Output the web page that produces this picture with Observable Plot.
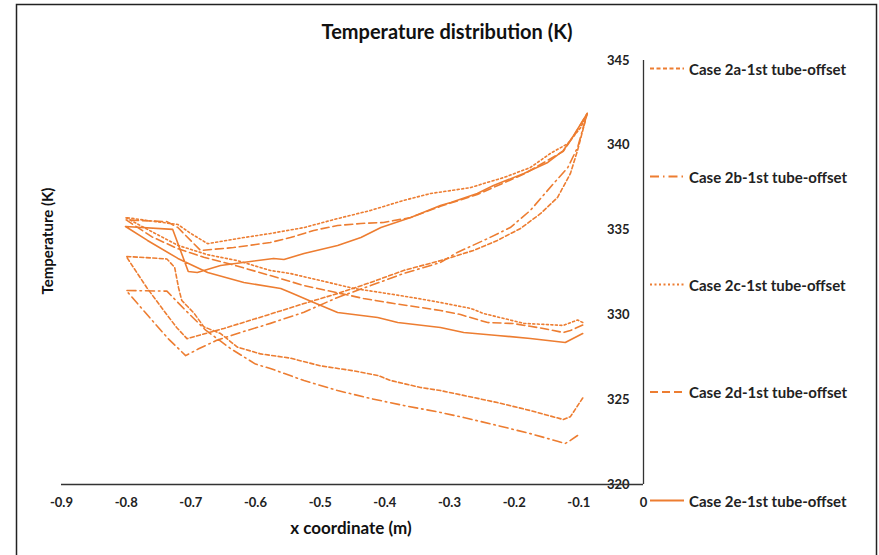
<!DOCTYPE html>
<html><head><meta charset="utf-8">
<script src="https://cdn.jsdelivr.net/npm/d3@7"></script>
<script src="https://cdn.jsdelivr.net/npm/@observablehq/plot@0.6"></script>
<style>body{margin:0;background:#fff} svg{display:block}</style>
</head><body><div id="chart"></div>
<script>
const seriesNames = ["Case 2a-1st tube-offset","Case 2b-1st tube-offset","Case 2c-1st tube-offset","Case 2d-1st tube-offset","Case 2e-1st tube-offset"];
const xTicks = [-0.9,-0.8,-0.7,-0.6,-0.5,-0.4,-0.3,-0.2,-0.1,0];
const yTicks = [320,325,330,335,340,345];

// Case 2a (lower branch right->left, then upper branch left->right)
const x2a = [-0.094,-0.113,-0.124,-0.175,-0.226,-0.263,-0.314,-0.345,-0.391,-0.411,-0.448,-0.5,-0.546,-0.592,-0.628,-0.654,-0.68,-0.695,-0.714,-0.719,-0.725,-0.737,-0.80,
  -0.768,-0.742,-0.722,-0.706,-0.649,-0.581,-0.525,-0.473,-0.422,-0.371,-0.314,-0.298,-0.263,-0.226,-0.19,-0.159,-0.133,-0.113,-0.102,-0.087];
const t2a = [325.1,324.0,323.83,324.36,324.83,325.13,325.54,325.72,326.13,326.43,326.7,327.0,327.45,327.7,328.1,328.9,329.3,330.1,330.85,331.6,332.8,333.3,333.45,
  331.6,330.26,329.26,328.6,329.2,330.0,330.67,331.26,331.91,332.62,333.2,333.38,333.8,334.39,335.1,335.98,336.92,338.34,339.7,341.88];

// Case 2b
const x2b = [-0.102,-0.113,-0.121,-0.133,-0.175,-0.226,-0.278,-0.314,-0.371,-0.422,-0.473,-0.525,-0.577,-0.6,-0.638,-0.677,-0.708,-0.737,-0.80,
  -0.765,-0.735,-0.708,-0.688,-0.66,-0.62,-0.577,-0.525,-0.473,-0.422,-0.371,-0.314,-0.288,-0.241,-0.206,-0.175,-0.139,-0.117,-0.102,-0.087];
const t2b = [322.89,322.6,322.42,322.55,323.0,323.48,323.95,324.25,324.66,325.07,325.54,326.13,326.84,327.1,328.0,329.1,330.26,331.4,331.44,
  329.9,328.6,327.6,328.0,328.5,329.0,329.5,330.16,331.03,331.73,332.44,333.09,333.68,334.5,335.15,336.16,337.75,338.69,339.87,341.88];

// Case 2c
const x2c = [-0.094,-0.102,-0.124,-0.185,-0.247,-0.267,-0.314,-0.349,-0.396,-0.448,-0.5,-0.546,-0.577,-0.628,-0.674,-0.72,-0.76,-0.801,
  -0.72,-0.70,-0.674,-0.618,-0.577,-0.525,-0.473,-0.422,-0.371,-0.329,-0.298,-0.267,-0.247,-0.216,-0.175,-0.144,-0.117,-0.097,-0.087];
const t2c = [329.55,329.7,329.38,329.5,330.08,330.38,330.73,330.97,331.26,331.56,332.03,332.44,332.62,333.2,333.55,334.1,334.9,335.74,
  335.33,334.8,334.2,334.56,334.8,335.15,335.68,336.16,336.75,337.16,337.33,337.51,337.75,338.1,338.69,339.52,340.1,341.05,341.88];

// Case 2d
const x2d = [-0.094,-0.113,-0.124,-0.155,-0.201,-0.241,-0.283,-0.314,-0.345,-0.386,-0.433,-0.473,-0.525,-0.577,-0.63,-0.68,-0.72,-0.76,-0.80,
  -0.737,-0.72,-0.685,-0.634,-0.577,-0.546,-0.51,-0.473,-0.437,-0.402,-0.36,-0.314,-0.257,-0.185,-0.124,-0.108,-0.087];
const t2d = [329.4,329.08,328.96,329.2,329.49,329.55,330.02,330.26,330.44,330.67,330.97,331.3,331.73,332.32,332.9,333.4,333.9,334.6,335.6,
  335.5,335.15,333.8,333.97,334.27,334.56,334.98,335.27,335.39,335.45,335.74,336.4,337.1,338.3,339.65,340.55,341.88];

// Case 2e
const x2e = [-0.094,-0.121,-0.175,-0.226,-0.278,-0.314,-0.38,-0.411,-0.473,-0.51,-0.546,-0.561,-0.618,-0.674,-0.72,-0.767,-0.801,
  -0.728,-0.704,-0.69,-0.654,-0.572,-0.556,-0.525,-0.473,-0.437,-0.406,-0.36,-0.314,-0.298,-0.257,-0.232,-0.185,-0.148,-0.124,-0.108,-0.087];
const t2e = [328.9,328.37,328.61,328.79,328.96,329.26,329.55,329.85,330.14,330.73,331.32,331.56,331.91,332.5,333.33,334.39,335.21,
  335.04,332.56,332.5,332.91,333.33,333.27,333.62,334.09,334.56,335.15,335.74,336.45,336.63,337.16,337.63,338.34,338.99,339.69,340.58,341.88];

const xs = [x2a,x2b,x2c,x2d,x2e];
const ts = [t2a,t2b,t2c,t2d,t2e];
const dashes = ["4,2.5","9,4,1.5,4","2,2.5","8,4",null];
const color = "#ED7D31";

const rows = xs.map((xa, s) => xa.map((x, i) => ({series: seriesNames[s], x, t: ts[s][i], i})));

const fmt = d => String(+d.toFixed(1));

const chart = Plot.plot({
  width: 879, height: 555,
  marginLeft: 61, marginRight: 236, marginTop: 60, marginBottom: 71,
  x: {domain: [-0.9, 0], label: null},
  y: {domain: [320, 345], label: null},
  style: {fontFamily: "Lato, sans-serif", fontSize: "13px", fontWeight: "bold", color: "#222", background: "#fff"},
  marks: [
    Plot.axisX({ticks: xTicks, tickSize: 0, tickPadding: 13, tickFormat: fmt, fontSize: 13, fontWeight: "bold"}),
    Plot.axisY({anchor: "right", ticks: yTicks, tickSize: 0, tickPadding: 0, textAnchor: "end", dx: -14, fontSize: 13, fontWeight: "bold"}),
    Plot.ruleY([320], {stroke: "#333", strokeWidth: 1.3}),
    Plot.ruleX([0], {stroke: "#333", strokeWidth: 1.3}),
    ...rows.map((r, s) => Plot.line(r, {x: "x", y: "t", stroke: color, strokeWidth: 1.6, strokeDasharray: dashes[s] || undefined}))
  ]
});

const svg = d3.select(chart);
svg.insert("rect", ":first-child").attr("x", 16.5).attr("y", 4.5).attr("width", 860).attr("height", 580)
  .attr("fill", "#fff").attr("stroke", "#222").attr("stroke-width", 1.5);

svg.append("text").attr("x", 447).attr("y", 31).attr("text-anchor", "middle").attr("dominant-baseline", "central")
  .attr("font-size", 20).attr("font-weight", "bold").attr("fill", "#111").text("Temperature distribution (K)");
svg.append("text").attr("x", 351).attr("y", 527).attr("text-anchor", "middle").attr("dominant-baseline", "central")
  .attr("font-size", 17).attr("font-weight", "bold").attr("fill", "#111").text("x coordinate (m)");
svg.append("text").attr("transform", "translate(47,241) rotate(-90)").attr("text-anchor", "middle").attr("dominant-baseline", "central")
  .attr("font-size", 15).attr("font-weight", "bold").attr("fill", "#111").text("Temperature (K)");

const legendY = [68.5, 176.5, 284.5, 392, 500.5];
const lg = svg.append("g");
seriesNames.forEach((name, s) => {
  const g = lg.append("g").attr("transform", `translate(0,${legendY[s]})`);
  g.append("line").attr("x1", 650).attr("x2", 684).attr("y1", 0).attr("y2", 0)
    .attr("stroke", color).attr("stroke-width", 1.8).attr("stroke-dasharray", dashes[s]);
  g.append("text").attr("x", 689).attr("y", 0).attr("text-anchor", "start").attr("dominant-baseline", "central")
    .attr("font-size", 15).attr("font-weight", "bold").attr("fill", "#222").text(name);
});

document.getElementById("chart").appendChild(chart);
</script></body></html>
